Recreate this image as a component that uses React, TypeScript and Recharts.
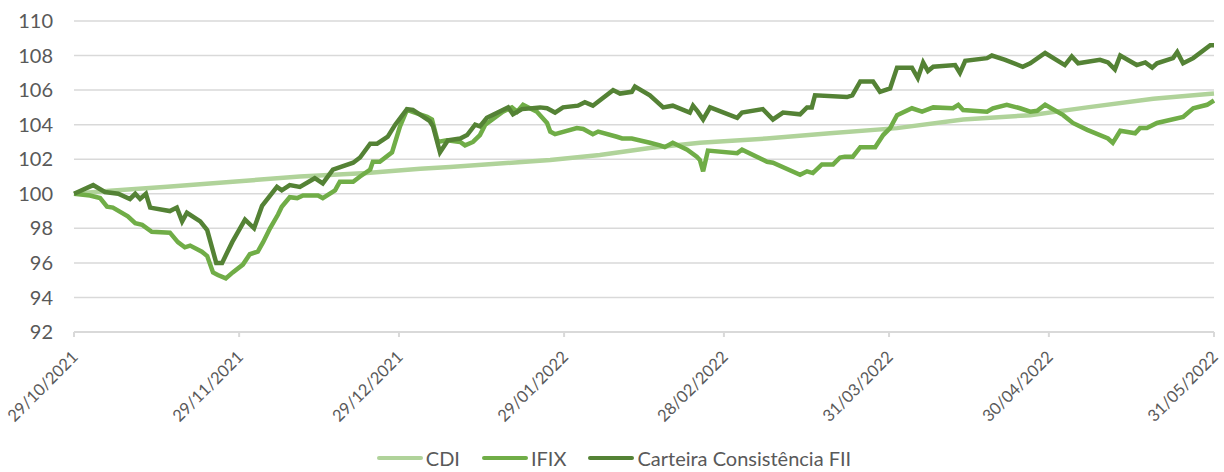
import React from 'react';
import { LineChart, Line, XAxis, YAxis, CartesianGrid, Legend } from 'recharts';

// days counted from 29/10/2021
const tickDays = [0, 31, 61, 92, 122, 153, 183, 214];
const tickLabels = ['29/10/2021', '29/11/2021', '29/12/2021', '29/01/2022', '28/02/2022', '31/03/2022', '30/04/2022', '31/05/2022'];
const yTicks = [92, 94, 96, 98, 100, 102, 104, 106, 108, 110];

const cdiDays = [0, 6.8, 17.5, 29.8, 42.4, 55, 65, 70.6, 89.4, 98.7, 108.1, 117.5, 130, 141.9, 154.5, 166.9, 179.5, 190.2, 202.6, 214];
const cdiValues = [100, 100.17, 100.4, 100.7, 101, 101.2, 101.45, 101.55, 101.95, 102.25, 102.65, 102.95, 103.2, 103.5, 103.8, 104.3, 104.55, 105, 105.5, 105.8];

const ifixDays = [0, 3, 4.9, 6.2, 7.3, 10.1, 11.5, 12.8, 14.6, 18, 19.5, 20.8, 21.8, 24, 25, 26.1, 27, 28.5, 29.8, 31.7, 33, 34.5, 35.5, 36.8, 38.3, 39, 40.5, 41.9, 43, 45.8, 46.7, 49, 49.9, 52.4, 53.7, 55.6, 56.1, 57.4, 59.7, 61.2, 62.5, 66.3, 67.2, 68.3, 70, 72.5, 73.4, 74.9, 76.2, 77.2, 80.5, 82.2, 83.2, 84.3, 86.9, 88.8, 89.4, 90.3, 94.4, 95.6, 97.4, 98.4, 101.9, 102.9, 104.7, 108.1, 110, 110.9, 112.4, 115.1, 116.9, 117.5, 118.1, 119, 124.5, 125.4, 130.1, 131.2, 136.3, 137.6, 138.7, 140.4, 142.5, 143.8, 144.7, 146.2, 147.6, 150.4, 151.9, 153.2, 154.5, 157.3, 159.2, 161.3, 165, 166, 166.9, 171.4, 172.5, 175.1, 177.6, 179.5, 180.8, 182.3, 185.7, 187.5, 190.2, 194.1, 195, 196.4, 199.2, 200.1, 201.4, 203.3, 208.2, 210.1, 212.7, 214];
const ifixValues = [100, 99.9, 99.75, 99.25, 99.2, 98.7, 98.3, 98.2, 97.8, 97.75, 97.2, 96.9, 97, 96.65, 96.4, 95.45, 95.3, 95.1, 95.45, 95.9, 96.5, 96.65, 97.2, 98, 98.8, 99.25, 99.8, 99.75, 99.9, 99.9, 99.75, 100.2, 100.7, 100.7, 101, 101.4, 101.85, 101.85, 102.4, 103.9, 104.85, 104.45, 104.3, 103, 103.1, 103, 102.8, 103, 103.4, 104, 104.75, 105, 104.75, 105.15, 104.75, 104.1, 103.6, 103.45, 103.8, 103.75, 103.45, 103.6, 103.3, 103.2, 103.2, 102.95, 102.8, 102.7, 102.95, 102.55, 102.15, 101.95, 101.3, 102.5, 102.35, 102.55, 101.85, 101.8, 101.1, 101.3, 101.2, 101.7, 101.7, 102.1, 102.15, 102.15, 102.7, 102.7, 103.4, 103.8, 104.55, 104.95, 104.75, 105, 104.95, 105.15, 104.85, 104.75, 104.95, 105.15, 104.95, 104.75, 104.8, 105.15, 104.55, 104.1, 103.7, 103.2, 102.95, 103.65, 103.5, 103.8, 103.8, 104.1, 104.45, 104.95, 105.15, 105.4];

const carteiraDays = [0, 3.6, 5.8, 8.3, 10.5, 11.5, 12.4, 13.5, 14.3, 18, 19.3, 20.3, 21.2, 23.7, 25, 26.7, 27.8, 29.7, 32.1, 33.8, 35.3, 38.1, 39, 40.5, 42.4, 45.2, 46.7, 48.6, 52.4, 53.7, 55.6, 56.9, 58.9, 60.3, 62.5, 63.6, 66.8, 67.4, 68.7, 70.2, 72.5, 73.8, 75.3, 76.2, 77.5, 81.5, 82.4, 84.1, 87.5, 88.8, 90.3, 91.8, 94.6, 95.9, 97.4, 101.2, 102.5, 104.7, 105.3, 108.1, 110.6, 112.4, 115.6, 116.2, 117.1, 118.1, 119.4, 124.5, 125.4, 129.3, 131.2, 133.1, 136.3, 137.6, 138.5, 139.1, 145.1, 146.1, 147.6, 150, 151.3, 153.2, 154.5, 157.3, 158.4, 159.4, 160.3, 161.3, 165.4, 166.3, 167.3, 171.4, 172.3, 174.8, 178.1, 179.5, 182.3, 186, 187.3, 188.5, 192.6, 194.1, 195.4, 196.4, 199.5, 201.1, 202.4, 203.3, 206.3, 207.1, 208.2, 210.1, 213.3, 214];
const carteiraValues = [100, 100.5, 100.1, 100, 99.7, 100, 99.7, 100, 99.2, 99, 99.2, 98.4, 98.9, 98.4, 97.9, 96, 96, 97.2, 98.5, 98, 99.3, 100.4, 100.2, 100.5, 100.4, 100.9, 100.6, 101.4, 101.8, 102.1, 102.9, 102.9, 103.3, 104, 104.9, 104.85, 104.2, 103.9, 102.4, 103.1, 103.2, 103.4, 104, 103.9, 104.4, 105, 104.6, 104.9, 105, 104.95, 104.7, 105, 105.1, 105.3, 105.1, 106, 105.8, 105.9, 106.2, 105.7, 105, 105.1, 104.7, 105.1, 104.75, 104.3, 105, 104.4, 104.7, 104.9, 104.3, 104.7, 104.6, 105, 105, 105.7, 105.6, 105.7, 106.5, 106.5, 105.9, 106.1, 107.3, 107.3, 106.7, 107.6, 107.1, 107.35, 107.45, 107, 107.7, 107.85, 108, 107.75, 107.35, 107.55, 108.15, 107.45, 107.95, 107.55, 107.75, 107.6, 107.2, 108, 107.45, 107.6, 107.3, 107.55, 107.85, 108.2, 107.55, 107.85, 108.6, 108.6];

const toPoints = (days: number[], values: number[]) => days.map((d, i) => ({ day: d, v: values[i] }));

const series = [
  { name: 'CDI', color: '#B0D39A', data: toPoints(cdiDays, cdiValues) },
  { name: 'IFIX', color: '#70AD47', data: toPoints(ifixDays, ifixValues) },
  { name: 'Carteira Consistência FII', color: '#548235', data: toPoints(carteiraDays, carteiraValues) },
];

const FONT = 'Lato, "Open Sans", sans-serif';
const TEXT = '#595959';

const DateTick = (props: any) => {
  const { x, y, payload } = props;
  const idx = tickDays.indexOf(payload.value);
  return (
    <g transform={`translate(${x + 1},${y + 15})`}>
      <text
        transform="rotate(-45)"
        textAnchor="end"
        dy="0.35em"
        fill={TEXT}
        fontSize={16.5}
        fontFamily={FONT}
      >
        {tickLabels[idx]}
      </text>
    </g>
  );
};

const LegendContent = () => (
  <div style={{ display: 'flex', justifyContent: 'center', alignItems: 'center', height: 25, fontFamily: FONT, fontSize: 20, color: TEXT, paddingLeft: 14 }}>
    {series.map((s, i) => (
      <div key={s.name} style={{ display: 'flex', alignItems: 'center', marginLeft: i === 0 ? 0 : 22 }}>
        <span style={{ display: 'inline-block', width: 46, height: 4, borderRadius: 2, background: s.color, marginRight: 3 }} />
        <span>{s.name}</span>
      </div>
    ))}
  </div>
);

const App: React.FC = () => {
  return (
    <div style={{ position: 'absolute', left: 0, top: 0, width: 1224, height: 472, background: '#fff' }}>
      <LineChart width={1224} height={472} margin={{ top: 21, right: 10, left: 0, bottom: 0 }}>
        <CartesianGrid vertical={false} stroke="#D9D9D9" strokeWidth={1.5} />
        <XAxis
          dataKey="day"
          type="number"
          domain={[0, 214]}
          ticks={tickDays}
          interval={0}
          height={113}
          stroke="#D9D9D9"
          strokeWidth={2}
          tickSize={5}
          tick={<DateTick />}
        />
        <YAxis
          type="number"
          domain={[92, 110]}
          ticks={yTicks}
          width={74}
          axisLine={false}
          tickLine={false}
          tickSize={0}
          tickMargin={21}
          tick={{ fill: TEXT, fontSize: 20, fontFamily: FONT }}
        />
        <Legend verticalAlign="bottom" height={27} content={<LegendContent />} />
        {series.map((s) => (
          <Line
            key={s.name}
            data={s.data}
            dataKey="v"
            name={s.name}
            type="linear"
            stroke={s.color}
            strokeWidth={4.5}
            dot={false}
            isAnimationActive={false}
          />
        ))}
      </LineChart>
    </div>
  );
};

export default App;
